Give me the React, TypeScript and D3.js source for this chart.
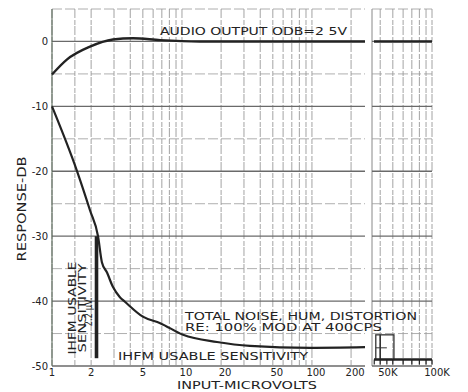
import React from "react";
import * as d3 from "d3";

const W = 468;
const H = 392;

// Main log x-axis (microvolts)
const xTicksMain = [1, 2, 5, 10, 20, 50, 100, 200];
const xTickLabelsMain = ["1", "2", "5", "10", "20", "50", "100", "200"];
const xGridMain = [1, 1.5, 2, 3, 4, 5, 6, 7, 8, 9, 10, 20, 30, 40, 50, 60, 70, 80, 90, 100, 200];
// Inset panel (high input)
const xGridPanel = [40000, 50000, 60000, 70000, 80000, 90000, 100000];
const xCombPanel = [36000, 40000, 45000, 50000, 60000, 70000, 80000, 90000, 100000];
const xTicksPanel = [50000, 100000];
const xTickLabelsPanel = ["50K", "100K"];
// y axis
const yTicks = [0, -10, -20, -30, -40, -50];
const yTickLabels = ["0", "-10", "-20", "-30", "-40", "-50"];
const yGrid = [5, 0, -5, -10, -15, -20, -25, -30, -35, -40, -45, -50];

// Audio output curve
const audioX = [1, 1.3, 1.96, 2.94, 4.2, 6.8, 13.7, 256];
const audioY = [-5.1, -2.8, -0.8, 0.3, 0.5, 0.2, 0, 0];
// Total noise, hum, distortion curve
const noiseX = [1, 1.56, 1.96, 2.26, 2.42, 2.65, 2.94, 3.33, 3.64, 5.0, 6.8, 10.2, 18.6, 33.3, 96.5, 256];
const noiseY = [-10, -20, -26, -30, -34, -35.6, -37.8, -39.4, -40.1, -42.4, -43.4, -45.2, -46.3, -46.9, -47.2, -47.1];
// Panel levels
const panelAudioY = 0;
const panelNoiseY = -49;
// IHFM sensitivity marker
const ihfmX = 2.2;
const ihfmTop = -30;
const ihfmBottom = -48.8;

const FONT = "'DejaVu Sans', sans-serif";
const INK = "#222";

export default function App() {
  const x = d3.scaleLog().domain([1, 256]).range([52, 365]);
  const xp = d3.scaleLog().domain([34600, 100000]).range([372, 432]);
  const y = d3.scaleLinear().domain([-50, 5]).range([366, 9]);

  const line = d3
    .line<[number, number]>()
    .x((d) => x(d[0]))
    .y((d) => y(d[1]))
    .curve(d3.curveMonotoneX);

  const audio = audioX.map((v, i) => [v, audioY[i]] as [number, number]);
  const noise = noiseX.map((v, i) => [v, noiseY[i]] as [number, number]);

  const [x0, x1] = x.range();
  const [p0, p1] = xp.range();

  return (
    <svg
      width={W}
      height={H}
      viewBox={`0 0 ${W} ${H}`}
      style={{ position: "absolute", left: 0, top: 0, background: "#fff" }}
    >
      <rect width={W} height={H} fill="#fff" />
      {/* main grid */}
      <g>
        {xGridMain.map((v) => (
          <line key={"vx" + v} x1={x(v)} x2={x(v)} y1={y(5)} y2={y(-50)} stroke="#8c8c8c" strokeWidth={0.8} strokeDasharray="9 2 5 1" />
        ))}
        {yGrid.map((v) => (
          <line
            key={"hy" + v}
            x1={x0}
            x2={x1}
            y1={y(v)}
            y2={y(v)}
            stroke={v % 10 === 0 ? "#6a6a6a" : "#9a9a9a"}
            strokeWidth={v % 10 === 0 ? 1.3 : 0.8}
            strokeDasharray={v % 10 === 0 ? undefined : "10 3"}
          />
        ))}
        <line x1={x0} x2={x0} y1={y(5)} y2={y(-50)} stroke="#5a6a5a" strokeWidth={1.1} />
      </g>
      {/* panel grid */}
      <g>
        <line x1={p0} x2={p0} y1={y(5)} y2={y(-50)} stroke="#7a7a7a" strokeWidth={0.9} />
        {xGridPanel.map((v) => (
          <line key={"pv" + v} x1={xp(v)} x2={xp(v)} y1={y(5)} y2={y(-50)} stroke="#8c8c8c" strokeWidth={0.8} strokeDasharray="9 2 5 1" />
        ))}
        {yGrid.map((v) => (
          <line
            key={"ph" + v}
            x1={p0}
            x2={p1}
            y1={y(v)}
            y2={y(v)}
            stroke={v % 10 === 0 ? "#6a6a6a" : "#9a9a9a"}
            strokeWidth={v % 10 === 0 ? 1.3 : 0.8}
            strokeDasharray={v % 10 === 0 ? undefined : "10 3"}
          />
        ))}
        <rect x={xp(37000)} y={y(-45.2)} width={xp(51000) - xp(37000)} height={y(panelNoiseY) - y(-45.2)} fill="none" stroke="#333" strokeWidth={1.3} />
        <line x1={xp(40000)} x2={xp(40000)} y1={y(-45.2)} y2={y(panelNoiseY)} stroke="#333" strokeWidth={1.6} />
        <line x1={xp(37000)} x2={xp(45000)} y1={y(-47.2)} y2={y(-47.2)} stroke="#333" strokeWidth={1} />
        <line x1={p0 + 2} x2={p1} y1={y(panelNoiseY)} y2={y(panelNoiseY)} stroke={INK} strokeWidth={2.6} />
        {xCombPanel.map((v) => (
          <line key={"cb" + v} x1={xp(v)} x2={xp(v)} y1={y(panelNoiseY)} y2={y(panelNoiseY) + 5} stroke={INK} strokeWidth={1.2} />
        ))}
        <line x1={p0 + 2} x2={p1} y1={y(panelAudioY)} y2={y(panelAudioY)} stroke={INK} strokeWidth={2.6} />
      </g>
      {/* curves */}
      <path d={line(audio) || ""} fill="none" stroke={INK} strokeWidth={2.4} />
      <path d={line(noise) || ""} fill="none" stroke={INK} strokeWidth={2.2} />
      <line x1={x(ihfmX)} x2={x(ihfmX)} y1={y(ihfmTop)} y2={y(ihfmBottom)} stroke={INK} strokeWidth={3.6} />

      {/* y tick labels */}
      {yTicks.map((v, i) => (
        <text key={"yt" + v} x={x0 - 4} y={y(v) + 3.6} textAnchor="end" fontFamily={FONT} fontSize={10} fill={INK}>
          {yTickLabels[i]}
        </text>
      ))}
      {/* x tick labels */}
      {xTicksMain.map((v, i) => (
        <text key={"xt" + v} x={x(v) + (v >= 10 ? 4 : 0)} y={376} textAnchor="middle" fontFamily={FONT} fontSize={10} fill={INK}>
          {xTickLabelsMain[i]}
        </text>
      ))}
      {xTicksPanel.map((v, i) => (
        <text key={"xp" + v} x={xp(v) + (v === 100000 ? 5 : -5)} y={376} textAnchor="middle" fontFamily={FONT} fontSize={10} fill={INK}>
          {xTickLabelsPanel[i]}
        </text>
      ))}

      {/* axis titles */}
      <text x={247} y={389} textAnchor="middle" fontFamily={FONT} fontSize={11} fill={INK} textLength={140} lengthAdjust="spacingAndGlyphs">
        INPUT-MICROVOLTS
      </text>
      <text transform="translate(26,209) rotate(-90)" textAnchor="middle" fontFamily={FONT} fontSize={11.5} fill={INK} textLength={105} lengthAdjust="spacingAndGlyphs">
        RESPONSE-DB
      </text>

      {/* annotations */}
      <text x={160} y={35} fontFamily={FONT} fontSize={10} fill={INK} textLength={187} lengthAdjust="spacingAndGlyphs">
        AUDIO OUTPUT ODB=2 5V
      </text>
      <text x={185} y={320} fontFamily={FONT} fontSize={10} fill={INK} textLength={232} lengthAdjust="spacingAndGlyphs">
        TOTAL NOISE, HUM, DISTORTION
      </text>
      <text x={185} y={331} fontFamily={FONT} fontSize={10} fill={INK} textLength={197} lengthAdjust="spacingAndGlyphs">
        RE: 100% MOD AT 400CPS
      </text>
      <text x={118} y={360} fontFamily={FONT} fontSize={10} fill={INK} textLength={190} lengthAdjust="spacingAndGlyphs">
        IHFM USABLE SENSITIVITY
      </text>
      <text transform="translate(76,308) rotate(-90)" textAnchor="middle" fontFamily={FONT} fontSize={11} fill={INK} textLength={93} lengthAdjust="spacingAndGlyphs">
        IHFM USABLE
      </text>
      <text transform="translate(85.5,308) rotate(-90)" textAnchor="middle" fontFamily={FONT} fontSize={11} fill={INK} textLength={89} lengthAdjust="spacingAndGlyphs">
        SENSITIVITY
      </text>
      <text transform="translate(92,312) rotate(-90)" textAnchor="middle" fontFamily={FONT} fontSize={11} fill={INK} textLength={29} lengthAdjust="spacingAndGlyphs">
        2.2 µV.
      </text>
    </svg>
  );
}
